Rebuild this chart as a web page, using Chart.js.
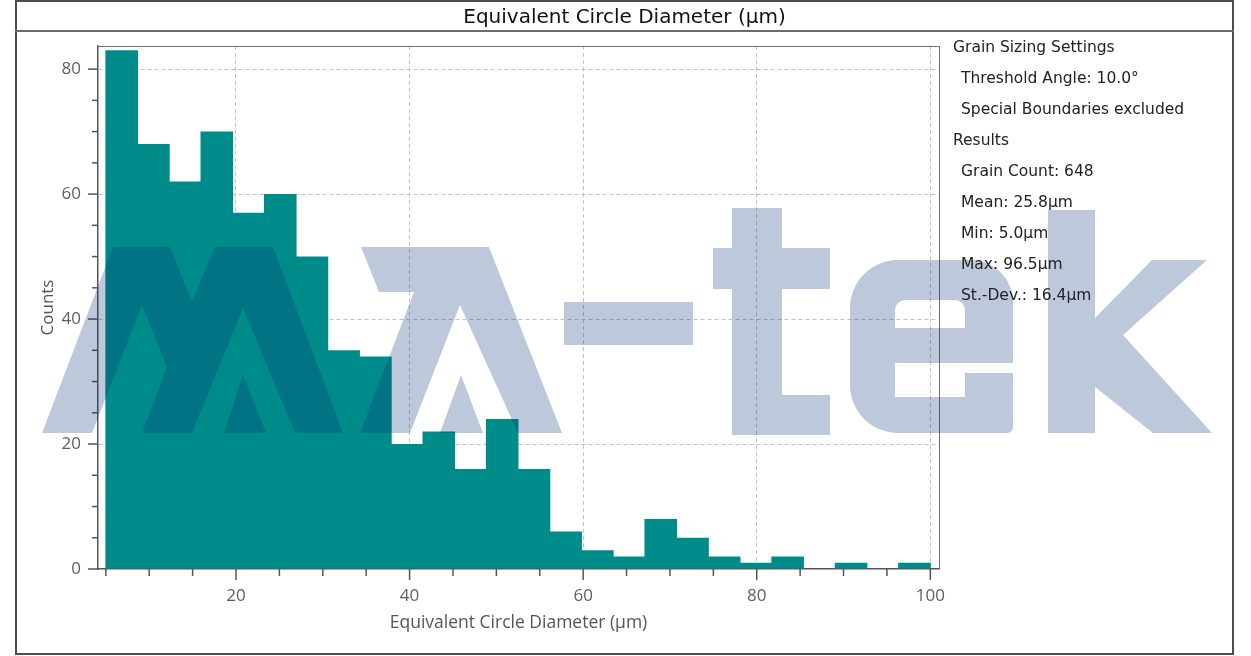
<!DOCTYPE html>
<html><head><meta charset="utf-8">
<script src="https://cdn.jsdelivr.net/npm/chart.js@4.4.0/dist/chart.umd.min.js"></script>
<style>
html,body{margin:0;padding:0;background:#fff;}
#wrap{position:relative;width:1251px;height:656px;overflow:hidden;background:#fff;}
#c{position:absolute;left:0;top:0;}
#frame{position:absolute;left:15px;top:0;width:1215px;height:651px;border:2px solid #4d4d4d;pointer-events:none;}
#sep{position:absolute;left:15px;top:30px;width:1219px;height:2px;background:#6b6b6b;}
#title{position:absolute;left:15px;width:1219px;top:1px;height:30px;line-height:31px;text-align:center;font-family:"DejaVu Sans",sans-serif;font-size:20px;color:#111;}
#side{position:absolute;left:953px;top:31.5px;font-family:"DejaVu Sans",sans-serif;font-size:15.5px;color:#222;}
#side div{height:31.1px;line-height:31.1px;white-space:nowrap;}
#side .ind{padding-left:8px;}
</style></head>
<body>
<div id="wrap">
<canvas id="c" width="1251" height="656"></canvas>
<div id="frame"></div>
<div id="sep"></div>
<div id="title"></div>
<div id="side"></div>
</div>
<script>
// ---- data ----
const chartTitle = 'Equivalent Circle Diameter (µm)';
const xAxisTitle = 'Equivalent Circle Diameter (µm)';
const yAxisTitle = 'Counts';
const binCenters = [6.83,10.48,14.13,17.79,21.44,25.10,28.75,32.40,36.06,39.71,43.37,47.02,50.67,54.33,57.98,61.63,65.29,68.94,72.60,76.25,79.90,83.56,87.21,90.87,94.52,98.17];
const counts = [83,68,62,70,57,60,50,35,34,20,22,16,24,16,6,3,2,8,5,2,1,2,0,1,0,1];
const xTickValues = [5,10,15,20,25,30,35,40,45,50,55,60,65,70,75,80,85,90,95,100];
const xLabelValues = [20,40,60,80,100];
const yTickValues = [0,5,10,15,20,25,30,35,40,45,50,55,60,65,70,75,80];
const yLabelValues = [0,20,40,60,80];
const settingsHeaders = ['Grain Sizing Settings','Results'];
const settingsItems = ['Threshold Angle: 10.0°','Special Boundaries excluded'];
const resultItems = ['Grain Count: 648','Mean: 25.8µm','Min: 5.0µm','Max: 96.5µm','St.-Dev.: 16.4µm'];

document.getElementById('title').textContent = chartTitle;
const side = document.getElementById('side');
function addLine(t, ind){ const d=document.createElement('div'); d.textContent=t; if(ind) d.className='ind'; side.appendChild(d); }
addLine(settingsHeaders[0], false);
settingsItems.forEach(t=>addLine(t,true));
addLine(settingsHeaders[1], false);
resultItems.forEach(t=>addLine(t,true));

// ---- watermark shapes (decoration, not data) ----
const wmColor = 'rgba(0,47,113,0.26)';
const wmPolys = [
  [[42,433],[113,247],[170,247],[192,302],[215,247],[273,247],[343,433],[295,433],[243,308],[192,433],[142,433],[167,367],[142,305],[92,433]],
  [[224,433],[243,375],[266,433]],
  [[361,247],[489,247],[562,433],[518,433],[460,305],[410,433],[360,433],[414,292],[379,292]],
  [[440,433],[461,375],[483,433]],
  [[564,302],[693,302],[693,345],[564,345]],
  [[732,208],[782,208],[782,248],[830,248],[830,289],[782,289],[782,395],[830,395],[830,435],[732,435],[732,289],[713,289],[713,248],[732,248]],
  [[1048,210],[1095,210],[1095,318],[1152,260],[1207,260],[1123,335],[1212,433],[1153,433],[1095,387],[1095,433],[1048,433]]
];
function polyPath(ctx, pts){ ctx.moveTo(pts[0][0],pts[0][1]); for(let i=1;i<pts.length;i++) ctx.lineTo(pts[i][0],pts[i][1]); ctx.closePath(); }

const plotDecor = {
  id:'plotDecor',
  beforeDraw(chart){ const ctx=chart.ctx; ctx.save(); ctx.fillStyle='#fff'; ctx.fillRect(0,0,chart.width,chart.height); ctx.restore(); },
  afterDraw(chart){
    const ctx = chart.ctx, a = chart.chartArea, xs = chart.scales.x, ys = chart.scales.y;
    ctx.save();
    ctx.strokeStyle = '#707070'; ctx.lineWidth = 1;
    ctx.beginPath(); ctx.moveTo(a.left, a.top+0.5); ctx.lineTo(a.right+0.5, a.top+0.5); ctx.lineTo(a.right+0.5, a.bottom); ctx.stroke();
    ctx.strokeStyle = '#555'; ctx.lineWidth = 1.5;
    xTickValues.forEach(v=>{ const px = xs.getPixelForValue(v); const len = xLabelValues.includes(v)?11:7; ctx.beginPath(); ctx.moveTo(px,a.bottom); ctx.lineTo(px,a.bottom+len); ctx.stroke(); });
    yTickValues.forEach(v=>{ const py = ys.getPixelForValue(v); const len = yLabelValues.includes(v)?10:6; ctx.beginPath(); ctx.moveTo(a.left,py); ctx.lineTo(a.left-len,py); ctx.stroke(); });
    // watermark
    ctx.fillStyle = wmColor;
    ctx.beginPath();
    wmPolys.forEach(p=>polyPath(ctx,p));
    ctx.fill('nonzero');
    ctx.beginPath();
    ctx.roundRect(850,260,163,173,[48,42,6,48]);
    ctx.roundRect(895,300,70,28,[10,10,0,0]);
    polyPath(ctx, [[895,363],[1013,363],[1013,373],[965,373],[965,397],[895,397]]);
    ctx.fill('evenodd');
    ctx.restore();
  }
};

const gridCol = '#c2c2c2';
new Chart(document.getElementById('c'), {
  type:'bar',
  data:{ datasets:[{ data: binCenters.map((x,i)=>({x:x, y:counts[i]})), backgroundColor:'#008B8B', borderWidth:0, barPercentage:1.03, categoryPercentage:1 }]},
  options:{
    responsive:false, animation:false, devicePixelRatio:1,
    layout:{ padding:{ left:30, top:46, right:312, bottom:17 } },
    plugins:{ legend:{display:false}, tooltip:{enabled:false}, title:{display:false} },
    scales:{
      x:{ type:'linear', min:4.1, max:101, offset:false,
        afterBuildTicks: s=>{ s.ticks = xTickValues.map(v=>({value:v})); },
        afterFit: s=>{ s.height = 70; },
        grid:{ offset:false, drawTicks:false, lineWidth:1, color: c => (c.tick && xLabelValues.includes(c.tick.value)) ? gridCol : 'rgba(0,0,0,0)' },
        border:{ display:true, color:'#555', width:1.5, dash:[4,3] },
        ticks:{ padding:17, color:'#606060', autoSkip:false, maxRotation:0, font:{family:'"Open Sans"', size:17}, callback: v => xLabelValues.includes(v) ? String(v) : '' },
        title:{ display:true, text:xAxisTitle, color:'#555', font:{family:'"Open Sans"', size:17.5}, padding:{top:0,bottom:5} }
      },
      y:{ type:'linear', min:0, max:83.7,
        afterBuildTicks: s=>{ s.ticks = yTickValues.map(v=>({value:v})); },
        afterFit: s=>{ s.width = 68; },
        grid:{ drawTicks:false, lineWidth:1, color: c => (c.tick && c.tick.value>0 && yLabelValues.includes(c.tick.value)) ? gridCol : 'rgba(0,0,0,0)' },
        border:{ display:true, color:'#555', width:1.5, dash:[4,3] },
        ticks:{ padding:17, color:'#606060', autoSkip:false, font:{family:'"Open Sans"', size:17}, callback: v => yLabelValues.includes(v) ? String(v) : '' },
        title:{ display:true, text:yAxisTitle, color:'#555', font:{family:'"Open Sans"', size:17}, padding:{top:8,bottom:0} }
      }
    }
  },
  plugins:[plotDecor]
});
</script>
</body></html>
